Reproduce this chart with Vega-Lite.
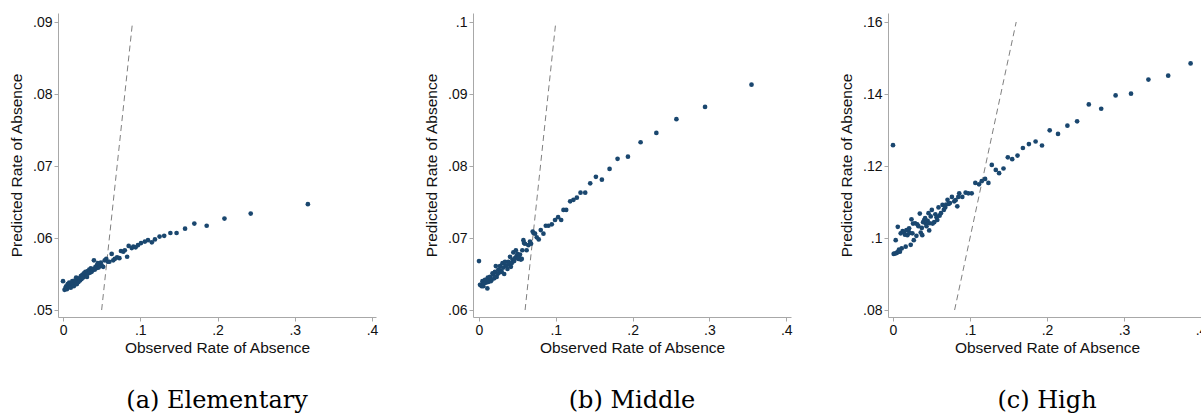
{
  "$schema": "https://vega.github.io/schema/vega-lite/v6.json",
  "padding": {"left": 9, "top": 13, "right": 0, "bottom": 0},
  "background": "white",
  "bounds": "flush",
  "spacing": 97,
  "config": {
    "view": {"stroke": null},
    "axis": {"domainColor": "#a8a8a8", "tickColor": "#a8a8a8", "tickSize": 4, "grid": false,
      "labelFont": "Liberation Sans", "labelFontSize": 14, "labelColor": "#111",
      "titleFont": "Liberation Sans", "titleFontSize": 15.5, "titleFontWeight": "normal", "titleColor": "#111",
      "labelPadding": 2, "labelFlush": false, "labelOverlap": false},
    "title": {"font": "DejaVu Serif", "fontSize": 24, "fontWeight": "normal", "orient": "bottom", "color": "#000", "offset": 33, "anchor": "middle"}
  },
  "datasets": {
    "elem": [
      {"obs":0.000,"pred":0.0540},{"obs":0.002,"pred":0.0528},{"obs":0.003,"pred":0.0530},{"obs":0.004,"pred":0.0533},{"obs":0.005,"pred":0.0529},
      {"obs":0.006,"pred":0.0536},{"obs":0.007,"pred":0.0532},{"obs":0.008,"pred":0.0538},{"obs":0.009,"pred":0.0534},{"obs":0.010,"pred":0.0531},
      {"obs":0.011,"pred":0.0537},{"obs":0.012,"pred":0.0540},{"obs":0.013,"pred":0.0535},{"obs":0.014,"pred":0.0533},{"obs":0.015,"pred":0.0541},
      {"obs":0.016,"pred":0.0538},{"obs":0.017,"pred":0.0545},{"obs":0.018,"pred":0.0536},{"obs":0.019,"pred":0.0542},{"obs":0.020,"pred":0.0539},
      {"obs":0.021,"pred":0.0544},{"obs":0.022,"pred":0.0541},{"obs":0.023,"pred":0.0547},{"obs":0.024,"pred":0.0543},{"obs":0.025,"pred":0.0549},
      {"obs":0.026,"pred":0.0545},{"obs":0.027,"pred":0.0551},{"obs":0.028,"pred":0.0547},{"obs":0.029,"pred":0.0553},{"obs":0.030,"pred":0.0549},
      {"obs":0.031,"pred":0.0546},{"obs":0.032,"pred":0.0554},{"obs":0.033,"pred":0.0551},{"obs":0.034,"pred":0.0556},{"obs":0.035,"pred":0.0552},
      {"obs":0.036,"pred":0.0558},{"obs":0.037,"pred":0.0553},{"obs":0.038,"pred":0.0555},{"obs":0.039,"pred":0.0557},{"obs":0.040,"pred":0.0569},
      {"obs":0.041,"pred":0.0556},{"obs":0.042,"pred":0.0560},{"obs":0.043,"pred":0.0558},{"obs":0.044,"pred":0.0562},{"obs":0.045,"pred":0.0565},
      {"obs":0.046,"pred":0.0559},{"obs":0.047,"pred":0.0563},{"obs":0.048,"pred":0.0561},{"obs":0.049,"pred":0.0566},{"obs":0.050,"pred":0.0562},
      {"obs":0.052,"pred":0.0560},{"obs":0.054,"pred":0.0569},{"obs":0.056,"pred":0.0571},{"obs":0.058,"pred":0.0567},{"obs":0.060,"pred":0.0567},
      {"obs":0.063,"pred":0.0578},{"obs":0.065,"pred":0.0569},{"obs":0.067,"pred":0.0571},{"obs":0.070,"pred":0.0573},{"obs":0.073,"pred":0.0572},
      {"obs":0.075,"pred":0.0582},{"obs":0.078,"pred":0.0581},{"obs":0.080,"pred":0.0583},{"obs":0.083,"pred":0.0574},{"obs":0.085,"pred":0.0589},
      {"obs":0.089,"pred":0.0586},{"obs":0.091,"pred":0.0588},{"obs":0.094,"pred":0.0587},{"obs":0.097,"pred":0.0590},{"obs":0.101,"pred":0.0593},
      {"obs":0.106,"pred":0.0595},{"obs":0.110,"pred":0.0597},{"obs":0.115,"pred":0.0594},{"obs":0.119,"pred":0.0598},{"obs":0.125,"pred":0.0602},
      {"obs":0.131,"pred":0.0603},{"obs":0.139,"pred":0.0607},{"obs":0.147,"pred":0.0607},{"obs":0.158,"pred":0.0613},{"obs":0.170,"pred":0.0620},
      {"obs":0.186,"pred":0.0617},{"obs":0.209,"pred":0.0627},{"obs":0.243,"pred":0.0634},{"obs":0.317,"pred":0.0647}
    ],
    "middle": [
      {"obs":0.0000,"pred":0.0668},{"obs":0.0013,"pred":0.0635},{"obs":0.0022,"pred":0.0635},{"obs":0.0035,"pred":0.0633},{"obs":0.0045,"pred":0.0640},
      {"obs":0.0056,"pred":0.0633},{"obs":0.0065,"pred":0.0637},{"obs":0.0078,"pred":0.0642},{"obs":0.0090,"pred":0.0638},{"obs":0.0109,"pred":0.0630},
      {"obs":0.0115,"pred":0.0645},{"obs":0.0121,"pred":0.0639},{"obs":0.0132,"pred":0.0643},{"obs":0.0143,"pred":0.0646},{"obs":0.0154,"pred":0.0640},
      {"obs":0.0165,"pred":0.0642},{"obs":0.0176,"pred":0.0651},{"obs":0.0187,"pred":0.0649},{"obs":0.0198,"pred":0.0644},{"obs":0.0208,"pred":0.0653},
      {"obs":0.0219,"pred":0.0661},{"obs":0.0230,"pred":0.0646},{"obs":0.0241,"pred":0.0650},{"obs":0.0252,"pred":0.0656},{"obs":0.0263,"pred":0.0652},
      {"obs":0.0273,"pred":0.0661},{"obs":0.0284,"pred":0.0655},{"obs":0.0295,"pred":0.0653},{"obs":0.0306,"pred":0.0665},{"obs":0.0317,"pred":0.0659},
      {"obs":0.0328,"pred":0.0650},{"obs":0.0339,"pred":0.0667},{"obs":0.0350,"pred":0.0662},{"obs":0.0360,"pred":0.0661},{"obs":0.0371,"pred":0.0657},
      {"obs":0.0382,"pred":0.0667},{"obs":0.0393,"pred":0.0664},{"obs":0.0404,"pred":0.0674},{"obs":0.0415,"pred":0.0660},{"obs":0.0425,"pred":0.0665},
      {"obs":0.0436,"pred":0.0670},{"obs":0.0447,"pred":0.0680},{"obs":0.0458,"pred":0.0668},{"obs":0.0469,"pred":0.0672},{"obs":0.0480,"pred":0.0683},
      {"obs":0.0490,"pred":0.0675},{"obs":0.0501,"pred":0.0678},{"obs":0.0512,"pred":0.0671},{"obs":0.0523,"pred":0.0673},{"obs":0.0534,"pred":0.0677},
      {"obs":0.0545,"pred":0.0670},{"obs":0.0557,"pred":0.0671},{"obs":0.0564,"pred":0.0683},{"obs":0.0578,"pred":0.0697},{"obs":0.0586,"pred":0.0693},
      {"obs":0.0600,"pred":0.0692},{"obs":0.0620,"pred":0.0683},{"obs":0.0643,"pred":0.0690},{"obs":0.0664,"pred":0.0695},{"obs":0.0678,"pred":0.0692},
      {"obs":0.0699,"pred":0.0709},{"obs":0.0710,"pred":0.0707},{"obs":0.0730,"pred":0.0706},{"obs":0.0752,"pred":0.0701},{"obs":0.0778,"pred":0.0698},
      {"obs":0.0804,"pred":0.0711},{"obs":0.0839,"pred":0.0706},{"obs":0.0870,"pred":0.0717},{"obs":0.0904,"pred":0.0717},{"obs":0.0948,"pred":0.0719},
      {"obs":0.0990,"pred":0.0725},{"obs":0.1030,"pred":0.0729},{"obs":0.1070,"pred":0.0725},{"obs":0.1100,"pred":0.0739},{"obs":0.1135,"pred":0.0739},
      {"obs":0.1187,"pred":0.0751},{"obs":0.1230,"pred":0.0753},{"obs":0.1274,"pred":0.0756},{"obs":0.1322,"pred":0.0763},{"obs":0.1383,"pred":0.0763},
      {"obs":0.1448,"pred":0.0776},{"obs":0.1522,"pred":0.0785},{"obs":0.1600,"pred":0.0781},{"obs":0.1700,"pred":0.0796},{"obs":0.1804,"pred":0.0810},
      {"obs":0.1939,"pred":0.0813},{"obs":0.2104,"pred":0.0833},{"obs":0.2309,"pred":0.0846},{"obs":0.2570,"pred":0.0865},{"obs":0.2943,"pred":0.0882},
      {"obs":0.3548,"pred":0.0913}
    ],
    "high": [
      {"obs":0.0000,"pred":0.1258},{"obs":0.0009,"pred":0.0956},{"obs":0.0020,"pred":0.0957},{"obs":0.0035,"pred":0.0994},{"obs":0.0043,"pred":0.0958},
      {"obs":0.0055,"pred":0.0960},{"obs":0.0062,"pred":0.1031},{"obs":0.0070,"pred":0.0962},{"obs":0.0078,"pred":0.0968},{"obs":0.0090,"pred":0.0962},
      {"obs":0.0100,"pred":0.1013},{"obs":0.0113,"pred":0.0971},{"obs":0.0125,"pred":0.1019},{"obs":0.0143,"pred":0.1017},{"obs":0.0155,"pred":0.1009},
      {"obs":0.0165,"pred":0.0976},{"obs":0.0175,"pred":0.1022},{"obs":0.0187,"pred":0.1008},{"obs":0.0200,"pred":0.1020},{"obs":0.0209,"pred":0.1027},
      {"obs":0.0220,"pred":0.1014},{"obs":0.0230,"pred":0.0981},{"obs":0.0240,"pred":0.1052},{"obs":0.0252,"pred":0.1013},{"obs":0.0260,"pred":0.1040},
      {"obs":0.0270,"pred":0.0994},{"obs":0.0287,"pred":0.1041},{"obs":0.0304,"pred":0.1006},{"obs":0.0315,"pred":0.1038},{"obs":0.0330,"pred":0.1033},
      {"obs":0.0348,"pred":0.1068},{"obs":0.0360,"pred":0.1015},{"obs":0.0374,"pred":0.1028},{"obs":0.0380,"pred":0.1008},{"obs":0.0391,"pred":0.1044},
      {"obs":0.0405,"pred":0.1050},{"obs":0.0417,"pred":0.1055},{"obs":0.0425,"pred":0.1040},{"obs":0.0435,"pred":0.1033},{"obs":0.0450,"pred":0.1048},
      {"obs":0.0461,"pred":0.1069},{"obs":0.0470,"pred":0.1021},{"obs":0.0478,"pred":0.1041},{"obs":0.0490,"pred":0.1060},{"obs":0.0504,"pred":0.1078},
      {"obs":0.0515,"pred":0.1040},{"obs":0.0535,"pred":0.1044},{"obs":0.0550,"pred":0.1066},{"obs":0.0565,"pred":0.1058},{"obs":0.0575,"pred":0.1050},
      {"obs":0.0591,"pred":0.1085},{"obs":0.0605,"pred":0.1062},{"obs":0.0622,"pred":0.1069},{"obs":0.0643,"pred":0.1092},{"obs":0.0660,"pred":0.1078},
      {"obs":0.0678,"pred":0.1085},{"obs":0.0690,"pred":0.1093},{"obs":0.0708,"pred":0.1106},{"obs":0.0725,"pred":0.1095},{"obs":0.0739,"pred":0.1097},
      {"obs":0.0765,"pred":0.1114},{"obs":0.0795,"pred":0.1102},{"obs":0.0813,"pred":0.1105},{"obs":0.0835,"pred":0.1088},{"obs":0.0848,"pred":0.1114},
      {"obs":0.0860,"pred":0.1124},{"obs":0.0900,"pred":0.1114},{"obs":0.0943,"pred":0.1126},{"obs":0.0978,"pred":0.1124},{"obs":0.1022,"pred":0.1124},
      {"obs":0.1069,"pred":0.1153},{"obs":0.1117,"pred":0.1149},{"obs":0.1152,"pred":0.1158},{"obs":0.1196,"pred":0.1164},{"obs":0.1239,"pred":0.1153},
      {"obs":0.1283,"pred":0.1203},{"obs":0.1335,"pred":0.1189},{"obs":0.1378,"pred":0.1180},{"obs":0.1435,"pred":0.1193},{"obs":0.1491,"pred":0.1224},
      {"obs":0.1548,"pred":0.1219},{"obs":0.1617,"pred":0.1229},{"obs":0.1687,"pred":0.1250},{"obs":0.1765,"pred":0.1261},{"obs":0.1852,"pred":0.1268},
      {"obs":0.1935,"pred":0.1257},{"obs":0.2035,"pred":0.1299},{"obs":0.2143,"pred":0.1289},{"obs":0.2265,"pred":0.1312},{"obs":0.2391,"pred":0.1324},
      {"obs":0.2543,"pred":0.1371},{"obs":0.2704,"pred":0.1359},{"obs":0.2891,"pred":0.1396},{"obs":0.3091,"pred":0.1401},{"obs":0.3317,"pred":0.1440},
      {"obs":0.3574,"pred":0.1451},{"obs":0.3865,"pred":0.1485}
    ]
  },
  "hconcat": [
    {
      "width": 318, "height": 304,
      "title": {"text": "(a) Elementary"},
      "layer": [
        {
          "data": {"values": [{"x1": 0.05, "y1": 0.05, "x2": 0.09, "y2": 0.09}]},
          "mark": {"type": "rule", "strokeDash": [6, 4], "color": "#7f7f7f", "strokeWidth": 1},
          "encoding": {
            "x": {"field": "x1", "type": "quantitative", "scale": {"domain": [-0.0065, 0.4052], "nice": false, "zero": false}},
            "y": {"field": "y1", "type": "quantitative", "scale": {"domain": [0.04903, 0.09125], "nice": false, "zero": false}},
            "x2": {"field": "x2"}, "y2": {"field": "y2"}
          }
        },
        {
          "data": {"name": "elem"},
          "mark": {"type": "circle", "size": 22, "color": "#1a476f", "opacity": 1},
          "encoding": {
            "x": {"field": "obs", "type": "quantitative", "scale": {"domain": [-0.0065, 0.4052], "nice": false, "zero": false},
              "axis": {"title": "Observed Rate of Absence", "values": [0, 0.1, 0.2, 0.3, 0.4], "titlePadding": 3,
                "labelExpr": "datum.value == 0 ? '0' : slice(format(datum.value, '.2~f'), 1)"}},
            "y": {"field": "pred", "type": "quantitative", "scale": {"domain": [0.04903, 0.09125], "nice": false, "zero": false},
              "axis": {"title": "Predicted Rate of Absence", "values": [0.05, 0.06, 0.07, 0.08, 0.09], "titlePadding": 8,
                "labelExpr": "datum.value == 0 ? '0' : slice(format(datum.value, '.2~f'), 1)"}}
          }
        }
      ]
    },
    {
      "width": 318, "height": 304,
      "title": {"text": "(b) Middle"},
      "layer": [
        {
          "data": {"values": [{"x1": 0.06, "y1": 0.06, "x2": 0.1, "y2": 0.1}]},
          "mark": {"type": "rule", "strokeDash": [6, 4], "color": "#7f7f7f", "strokeWidth": 1},
          "encoding": {
            "x": {"field": "x1", "type": "quantitative", "scale": {"domain": [-0.0078, 0.4062], "nice": false, "zero": false}},
            "y": {"field": "y1", "type": "quantitative", "scale": {"domain": [0.05903, 0.10125], "nice": false, "zero": false}},
            "x2": {"field": "x2"}, "y2": {"field": "y2"}
          }
        },
        {
          "data": {"name": "middle"},
          "mark": {"type": "circle", "size": 22, "color": "#1a476f", "opacity": 1},
          "encoding": {
            "x": {"field": "obs", "type": "quantitative", "scale": {"domain": [-0.0078, 0.4062], "nice": false, "zero": false},
              "axis": {"title": "Observed Rate of Absence", "values": [0, 0.1, 0.2, 0.3, 0.4], "titlePadding": 3,
                "labelExpr": "datum.value == 0 ? '0' : slice(format(datum.value, '.2~f'), 1)"}},
            "y": {"field": "pred", "type": "quantitative", "scale": {"domain": [0.05903, 0.10125], "nice": false, "zero": false},
              "axis": {"title": "Predicted Rate of Absence", "values": [0.06, 0.07, 0.08, 0.09, 0.1], "titlePadding": 8,
                "labelExpr": "datum.value == 0 ? '0' : slice(format(datum.value, '.2~f'), 1)"}}
          }
        }
      ]
    },
    {
      "width": 318, "height": 304,
      "title": {"text": "(c) High"},
      "layer": [
        {
          "data": {"values": [{"x1": 0.08, "y1": 0.08, "x2": 0.16, "y2": 0.16}]},
          "mark": {"type": "rule", "strokeDash": [6, 4], "color": "#7f7f7f", "strokeWidth": 1},
          "encoding": {
            "x": {"field": "x1", "type": "quantitative", "scale": {"domain": [-0.0065, 0.4065], "nice": false, "zero": false}},
            "y": {"field": "y1", "type": "quantitative", "scale": {"domain": [0.07806, 0.1625], "nice": false, "zero": false}},
            "x2": {"field": "x2"}, "y2": {"field": "y2"}
          }
        },
        {
          "data": {"name": "high"},
          "mark": {"type": "circle", "size": 22, "color": "#1a476f", "opacity": 1},
          "encoding": {
            "x": {"field": "obs", "type": "quantitative", "scale": {"domain": [-0.0065, 0.4065], "nice": false, "zero": false},
              "axis": {"title": "Observed Rate of Absence", "values": [0, 0.1, 0.2, 0.3, 0.4], "titlePadding": 3,
                "labelExpr": "datum.value == 0 ? '0' : slice(format(datum.value, '.2~f'), 1)"}},
            "y": {"field": "pred", "type": "quantitative", "scale": {"domain": [0.07806, 0.1625], "nice": false, "zero": false},
              "axis": {"title": "Predicted Rate of Absence", "values": [0.08, 0.1, 0.12, 0.14, 0.16], "titlePadding": 8,
                "labelExpr": "datum.value == 0 ? '0' : slice(format(datum.value, '.2~f'), 1)"}}
          }
        }
      ]
    }
  ]
}
